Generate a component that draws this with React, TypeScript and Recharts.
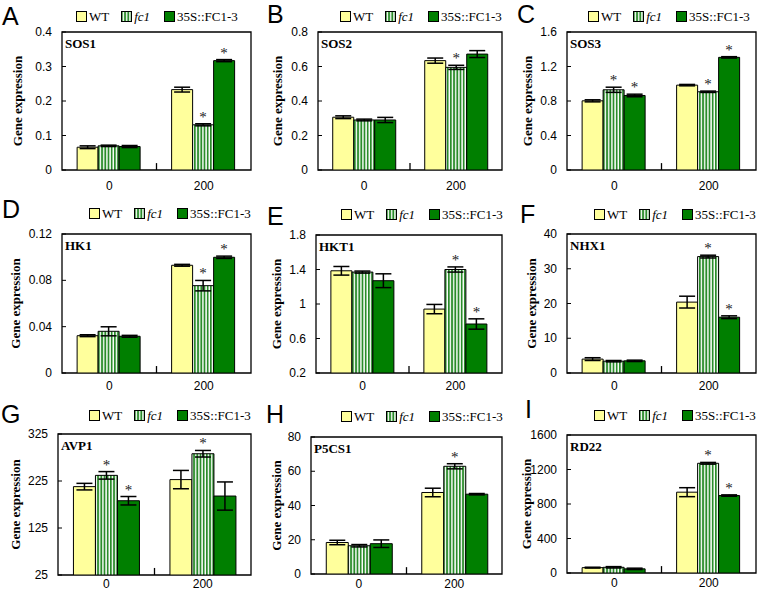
import React from "react";
import {
  BarChart,
  Bar,
  XAxis,
  YAxis,
  ErrorBar,
  LabelList,
  ReferenceArea,
  ReferenceLine,
} from "recharts";

// ---------- data ----------
const CONDITIONS = ["0", "200"];

// errors / significance: per condition [WT, fc1, 35S::FC1-3]
const SOS1_WT = [0.066, 0.233];
const SOS1_FC1 = [0.07, 0.131];
const SOS1_OE = [0.068, 0.317];
const SOS1_ERR = [[0.004, 0.002, 0.003], [0.007, 0.003, 0.003]];
const SOS1_SIG = [[0, 0, 0], [0, 1, 1]];
const SOS1_TICKS = [0, 0.1, 0.2, 0.3, 0.4];

const SOS2_WT = [0.306, 0.634];
const SOS2_FC1 = [0.29, 0.595];
const SOS2_OE = [0.29, 0.672];
const SOS2_ERR = [[0.008, 0.005, 0.015], [0.015, 0.012, 0.02]];
const SOS2_SIG = [[0, 0, 0], [0, 1, 0]];
const SOS2_TICKS = [0, 0.2, 0.4, 0.6, 0.8];

const SOS3_WT = [0.802, 0.984];
const SOS3_FC1 = [0.93, 0.907];
const SOS3_OE = [0.864, 1.306];
const SOS3_ERR = [[0.012, 0.03, 0.015], [0.008, 0.008, 0.008]];
const SOS3_SIG = [[0, 1, 1], [0, 1, 1]];
const SOS3_TICKS = [0, 0.4, 0.8, 1.2, 1.6];

const HK1_WT = [0.0322, 0.093];
const HK1_FC1 = [0.036, 0.0754];
const HK1_OE = [0.0317, 0.0999];
const HK1_ERR = [[0.0008, 0.0039, 0.0008], [0.0008, 0.0045, 0.001]];
const HK1_SIG = [[0, 0, 0], [0, 1, 1]];
const HK1_TICKS = [0, 0.04, 0.08, 0.12];

const HKT1_WT = [1.385, 0.941];
const HKT1_FC1 = [1.37, 1.4];
const HKT1_OE = [1.27, 0.768];
const HKT1_ERR = [[0.05, 0.012, 0.08], [0.054, 0.03, 0.06]];
const HKT1_SIG = [[0, 0, 0], [0, 1, 1]];
const HKT1_TICKS = [0.2, 0.6, 1, 1.4, 1.8];

const NHX1_WT = [4.0, 20.4];
const NHX1_FC1 = [3.4, 33.5];
const NHX1_OE = [3.5, 16.05];
const NHX1_ERR = [[0.4, 0.2, 0.2], [1.7, 0.4, 0.4]];
const NHX1_SIG = [[0, 0, 0], [0, 1, 1]];
const NHX1_TICKS = [0, 10, 20, 30, 40];

const AVP1_WT = [213, 228];
const AVP1_FC1 = [237, 283];
const AVP1_OE = [183, 193];
const AVP1_ERR = [[7, 8, 9], [19.5, 7, 30]];
const AVP1_SIG = [[0, 1, 1], [0, 1, 0]];
const AVP1_TICKS = [25, 125, 225, 325];

const P5CS1_WT = [18.4, 47.6];
const P5CS1_FC1 = [16.5, 62.9];
const P5CS1_OE = [17.7, 46.6];
const P5CS1_ERR = [[1.3, 0.7, 2.2], [2.5, 1.5, 0.4]];
const P5CS1_SIG = [[0, 0, 0], [0, 1, 0]];
const P5CS1_TICKS = [0, 20, 40, 60, 80];

const RD22_WT = [62, 937];
const RD22_FC1 = [66, 1272];
const RD22_OE = [48, 898];
const RD22_ERR = [[5, 8, 8], [52, 10, 8]];
const RD22_SIG = [[0, 0, 0], [0, 1, 1]];
const RD22_TICKS = [0, 400, 800, 1200, 1600];

// ---------- style ----------
const WT_COLOR = "#FFFF9C";
const OE_COLOR = "#007F00";
const STRIPE_GREEN = "#2A8C2A";
const SERIF = '"Times New Roman", "Liberation Serif", Times, "DejaVu Serif", serif';
const SANS = '"Liberation Sans", Arial, sans-serif';

const M_TOP = 12;
const Y_W = 60;
const X_H = 30;
const M_RIGHT = 4;
const Y_TICK_MARGIN = 10;

type Panel = {
  id: string;
  letter: string;
  gene: string;
  wt: number[];
  fc1: number[];
  oe: number[];
  err: number[][];
  sig: number[][];
  ticks: number[];
  plot: { left: number; top: number; w: number; h: number };
  yLabelOffset: number;
  xTickMargin: number;
  legend: { left: number; top: number };
  letterPos: { left: number; top: number };
};

const PANELS: Panel[] = [
  { id: "a", letter: "A", gene: "SOS1", wt: SOS1_WT, fc1: SOS1_FC1, oe: SOS1_OE, err: SOS1_ERR, sig: SOS1_SIG, ticks: SOS1_TICKS,
    plot: { left: 62, top: 32, w: 189, h: 138 }, yLabelOffset: 45, xTickMargin: 11, legend: { left: 76, top: 11 }, letterPos: { left: 2, top: 4 } },
  { id: "b", letter: "B", gene: "SOS2", wt: SOS2_WT, fc1: SOS2_FC1, oe: SOS2_OE, err: SOS2_ERR, sig: SOS2_SIG, ticks: SOS2_TICKS,
    plot: { left: 318, top: 32, w: 184, h: 138 }, yLabelOffset: 41, xTickMargin: 11, legend: { left: 340, top: 11 }, letterPos: { left: 267, top: 2 } },
  { id: "c", letter: "C", gene: "SOS3", wt: SOS3_WT, fc1: SOS3_FC1, oe: SOS3_OE, err: SOS3_ERR, sig: SOS3_SIG, ticks: SOS3_TICKS,
    plot: { left: 567, top: 32, w: 189, h: 138 }, yLabelOffset: 40, xTickMargin: 11, legend: { left: 588, top: 11 }, letterPos: { left: 517, top: 2 } },
  { id: "d", letter: "D", gene: "HK1", wt: HK1_WT, fc1: HK1_FC1, oe: HK1_OE, err: HK1_ERR, sig: HK1_SIG, ticks: HK1_TICKS,
    plot: { left: 62, top: 234, w: 189, h: 139 }, yLabelOffset: 47, xTickMargin: 8, legend: { left: 89, top: 208 }, letterPos: { left: 2, top: 197 } },
  { id: "e", letter: "E", gene: "HKT1", wt: HKT1_WT, fc1: HKT1_FC1, oe: HKT1_OE, err: HKT1_ERR, sig: HKT1_SIG, ticks: HKT1_TICKS,
    plot: { left: 316, top: 235, w: 186, h: 138 }, yLabelOffset: 40, xTickMargin: 8, legend: { left: 341, top: 209 }, letterPos: { left: 267, top: 204 } },
  { id: "f", letter: "F", gene: "NHX1", wt: NHX1_WT, fc1: NHX1_FC1, oe: NHX1_OE, err: NHX1_ERR, sig: NHX1_SIG, ticks: NHX1_TICKS,
    plot: { left: 567, top: 234, w: 189, h: 139 }, yLabelOffset: 36, xTickMargin: 8, legend: { left: 594, top: 209 }, letterPos: { left: 520, top: 202 } },
  { id: "g", letter: "G", gene: "AVP1", wt: AVP1_WT, fc1: AVP1_FC1, oe: AVP1_OE, err: AVP1_ERR, sig: AVP1_SIG, ticks: AVP1_TICKS,
    plot: { left: 58, top: 434, w: 193, h: 141 }, yLabelOffset: 43, xTickMargin: 4, legend: { left: 89, top: 410 }, letterPos: { left: 1, top: 402 } },
  { id: "h", letter: "H", gene: "P5CS1", wt: P5CS1_WT, fc1: P5CS1_FC1, oe: P5CS1_OE, err: P5CS1_ERR, sig: P5CS1_SIG, ticks: P5CS1_TICKS,
    plot: { left: 311, top: 437, w: 191, h: 137 }, yLabelOffset: 35, xTickMargin: 5, legend: { left: 341, top: 411 }, letterPos: { left: 266, top: 402 } },
  { id: "i", letter: "I", gene: "RD22", wt: RD22_WT, fc1: RD22_FC1, oe: RD22_OE, err: RD22_ERR, sig: RD22_SIG, ticks: RD22_TICKS,
    plot: { left: 567, top: 435, w: 189, h: 138 }, yLabelOffset: 41, xTickMargin: 5, legend: { left: 594, top: 410 }, letterPos: { left: 525, top: 397 } },
];

function buildRows(p: Panel) {
  return CONDITIONS.map((c, i) => ({
    cond: c,
    wt: p.wt[i],
    fc1: p.fc1[i],
    oe: p.oe[i],
    wtErr: p.err[i][0],
    fc1Err: p.err[i][1],
    oeErr: p.err[i][2],
    wtSig: p.sig[i][0],
    fc1Sig: p.sig[i][1],
    oeSig: p.sig[i][2],
  }));
}

function starContent(rows: any[], valKey: string, errKey: string, sigKey: string, d0: number) {
  return (props: any) => {
    const idx = props.index;
    const row = rows[idx];
    if (!row || !row[sigKey]) return null;
    const vb = props.viewBox && props.viewBox.width != null ? props.viewBox : props;
    const x = Number(vb.x);
    const w = Number(vb.width);
    const rawY = Number(vb.y);
    const rawH = Number(vb.height);
    const y = Math.min(rawY, rawY + rawH);
    const h = Math.abs(rawH);
    const v = row[valKey];
    const k = v - d0 !== 0 ? h / (v - d0) : 0;
    const top = y - row[errKey] * k;
    return (
      <text x={x + w / 2} y={top - 2} textAnchor="middle" fontFamily={SERIF} fontSize={15} fill="#1a1a1a">
        *
      </text>
    );
  };
}

const YTick = (props: any) => {
  const { x, y, payload } = props;
  return (
    <g>
      <text x={x} y={y} textAnchor="end" dominantBaseline="central" fontFamily={SANS} fontSize={12} fill="#000">
        {payload.value}
      </text>
      <line x1={x + Y_TICK_MARGIN} x2={x + Y_TICK_MARGIN + 4} y1={y} y2={y} stroke="#000" strokeWidth={1} />
    </g>
  );
};

function StripeDefs({ id }: { id: string }) {
  return (
    <defs>
      <pattern id={id} patternUnits="userSpaceOnUse" width="3.2" height="8">
        <rect x="0" y="0" width="3.2" height="8" fill="#FFFFFF" />
        <rect x="0" y="0" width="1.8" height="8" fill={STRIPE_GREEN} />
      </pattern>
    </defs>
  );
}

function Swatch({ fill, patternId }: { fill?: string; patternId?: string }) {
  return (
    <svg width={11} height={11} style={{ display: "block", flex: "none" }}>
      {patternId ? <StripeDefs id={patternId} /> : null}
      <rect x={0.5} y={0.5} width={10} height={10} fill={patternId ? `url(#${patternId})` : fill} stroke="#000" strokeWidth={1} />
    </svg>
  );
}

function LegendRow({ p }: { p: Panel }) {
  return (
    <div
      style={{
        position: "absolute",
        left: p.legend.left,
        top: p.legend.top,
        display: "flex",
        alignItems: "center",
        height: 11,
        fontFamily: SERIF,
        fontSize: 13,
        color: "#000",
        whiteSpace: "nowrap",
        lineHeight: "11px",
      }}
    >
      <Swatch fill={WT_COLOR} />
      <span style={{ marginLeft: 2, marginRight: 12 }}>WT</span>
      <Swatch patternId={`lg-stripe-${p.id}`} />
      <span style={{ marginLeft: 2, marginRight: 14, fontStyle: "italic" }}>fc1</span>
      <Swatch fill={OE_COLOR} />
      <span style={{ marginLeft: 2 }}>35S::FC1-3</span>
    </div>
  );
}

function PanelChart({ p }: { p: Panel }) {
  const rows = buildRows(p);
  const d0 = p.ticks[0];
  const d1 = p.ticks[p.ticks.length - 1];
  const W = p.plot.w + Y_W + M_RIGHT;
  const H = p.plot.h + M_TOP + X_H;
  const stripeId = `stripe-${p.id}`;
  return (
    <div style={{ position: "absolute", left: p.plot.left - Y_W, top: p.plot.top - M_TOP, width: W, height: H }}>
      <BarChart
        width={W}
        height={H}
        data={rows}
        margin={{ top: M_TOP, right: M_RIGHT, bottom: 0, left: 0 }}
        barCategoryGap="16%"
        barGap={0}
      >
        <StripeDefs id={stripeId} />
        <XAxis
          dataKey="cond"
          height={X_H}
          axisLine={false}
          tickLine={false}
          tickSize={0}
          tickMargin={p.xTickMargin}
          tick={{ fill: "#000", fontSize: 12, fontFamily: SANS }}
        />
        <XAxis xAxisId="mid" type="number" domain={[0, 1]} hide />
        <YAxis
          width={Y_W}
          domain={[d0, d1]}
          ticks={p.ticks}
          interval={0}
          allowDataOverflow
          axisLine={false}
          tickLine={false}
          tickSize={0}
          tickMargin={Y_TICK_MARGIN}
          tick={(tp: any) => <YTick {...tp} />}
        />
        <Bar dataKey="wt" fill={WT_COLOR} stroke="#000" strokeWidth={1} isAnimationActive={false}>
          <ErrorBar dataKey="wtErr" width={8} stroke="#000" strokeWidth={1.5} isAnimationActive={false} />
          <LabelList dataKey="wt" content={starContent(rows, "wt", "wtErr", "wtSig", d0)} />
        </Bar>
        <Bar dataKey="fc1" fill={`url(#${stripeId})`} stroke="#000" strokeWidth={1} isAnimationActive={false}>
          <ErrorBar dataKey="fc1Err" width={8} stroke="#000" strokeWidth={1.5} isAnimationActive={false} />
          <LabelList dataKey="fc1" content={starContent(rows, "fc1", "fc1Err", "fc1Sig", d0)} />
        </Bar>
        <Bar dataKey="oe" fill={OE_COLOR} stroke="#000" strokeWidth={1} isAnimationActive={false}>
          <ErrorBar dataKey="oeErr" width={8} stroke="#000" strokeWidth={1.5} isAnimationActive={false} />
          <LabelList dataKey="oe" content={starContent(rows, "oe", "oeErr", "oeSig", d0)} />
        </Bar>
        <ReferenceArea
          xAxisId="mid"
          x1={0}
          x2={1}
          y1={d0}
          y2={d1}
          fill="none"
          fillOpacity={0}
          stroke="#000"
          strokeWidth={1.3}
          ifOverflow="visible"
        />
        <ReferenceLine
          xAxisId="mid"
          segment={[
            { x: 0.5, y: d0 },
            { x: 0.5, y: d0 + (d1 - d0) * 0.05 },
          ]}
          stroke="#000"
          strokeWidth={1.3}
          ifOverflow="visible"
        />
        <text
          x={Y_W - p.yLabelOffset}
          y={M_TOP + p.plot.h / 2}
          transform={`rotate(-90 ${Y_W - p.yLabelOffset} ${M_TOP + p.plot.h / 2})`}
          textAnchor="middle"
          dominantBaseline="central"
          style={{ fontFamily: SERIF, fontWeight: "bold", fontSize: 13 }}
          fill="#000"
        >
          Gene expression
        </text>
        <text x={Y_W + 3} y={M_TOP + 16} style={{ fontFamily: SERIF, fontWeight: "bold", fontSize: 13 }} fill="#000">
          {p.gene}
        </text>
      </BarChart>
    </div>
  );
}

export default function App() {
  return (
    <div style={{ position: "absolute", left: 0, top: 0, width: 760, height: 594, background: "#fff", overflow: "hidden" }}>
      {PANELS.map((p) => (
        <React.Fragment key={p.id}>
          <div
            style={{
              position: "absolute",
              left: p.letterPos.left,
              top: p.letterPos.top,
              fontFamily: SANS,
              fontSize: 25,
              lineHeight: 1,
              color: "#000",
            }}
          >
            {p.letter}
          </div>
          <LegendRow p={p} />
          <PanelChart p={p} />
        </React.Fragment>
      ))}
    </div>
  );
}
